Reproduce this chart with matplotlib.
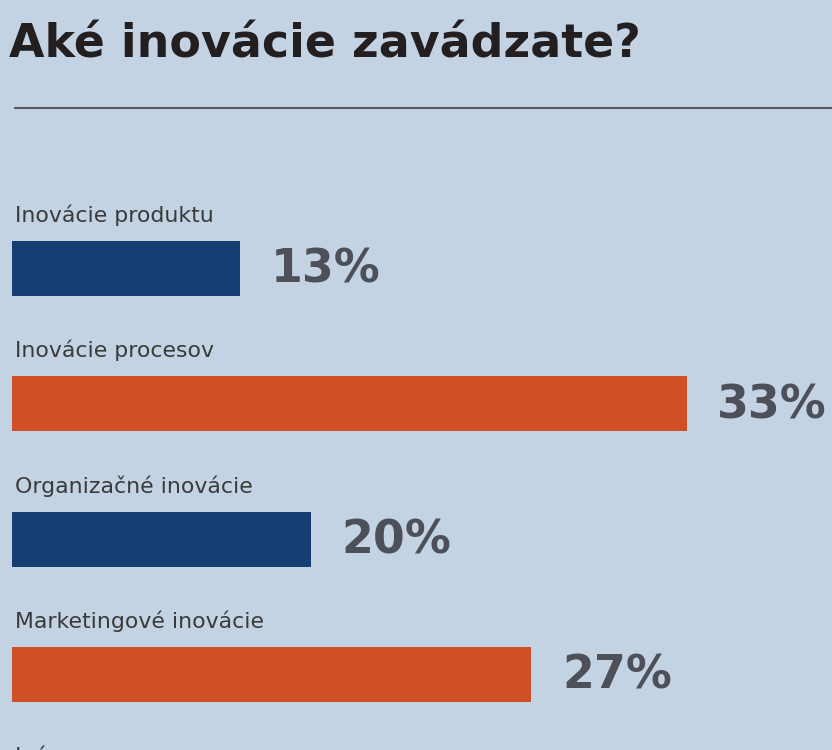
import matplotlib
matplotlib.use("Agg")
import matplotlib.pyplot as plt
from matplotlib.lines import Line2D

# data
categories = ["Inovácie produktu", "Inovácie procesov", "Organizačné inovácie",
              "Marketingové inovácie", "Iné"]
values = [13, 33, 20, 27]
# bar lengths as drawn in the source graphic (not proportional to the values)
drawn = [11.15, 33.0, 14.6, 25.4]

bg = "#c4d3e3"
blue = "#173e73"
orange = "#cf5027"
bar_colors = [blue, orange, blue, orange]

fig = plt.figure(figsize=(8.32, 7.5), dpi=100, facecolor=bg)
ax = fig.add_axes([0, 0, 1, 1])
ax.set_facecolor(bg)
ax.set_xlim(-0.587, 40.1)
ax.set_ylim(3.559, -1.984)
ax.axis("off")

ypos = list(range(len(values)))
ax.barh(ypos, drawn, height=0.406, left=0, color=bar_colors)

for i, name in enumerate(categories):
    ax.text(0.13, i - 0.344, name, fontsize=15.8, family="DejaVu Sans",
            color="#3a3a3a", va="baseline", ha="left")

for i, v in enumerate(values):
    ax.annotate(f"{v}%", xy=(drawn[i], i + 0.107), xytext=(22, 0),
                textcoords="offset points", fontsize=33, family="DejaVu Sans",
                weight="bold", color="#4d5058", va="baseline", ha="left")

fig.text(0.011, 0.924, "Aké inovácie zavádzate?", fontsize=33,
         family="DejaVu Sans", weight="heavy", color="#231f20",
         va="baseline", ha="left")
fig.add_artist(Line2D([15 / 832, 1], [1 - 108 / 750] * 2, color="#5a5a5a",
                      lw=1.5, transform=fig.transFigure))

fig.savefig("out.png", dpi=100, facecolor=bg)
